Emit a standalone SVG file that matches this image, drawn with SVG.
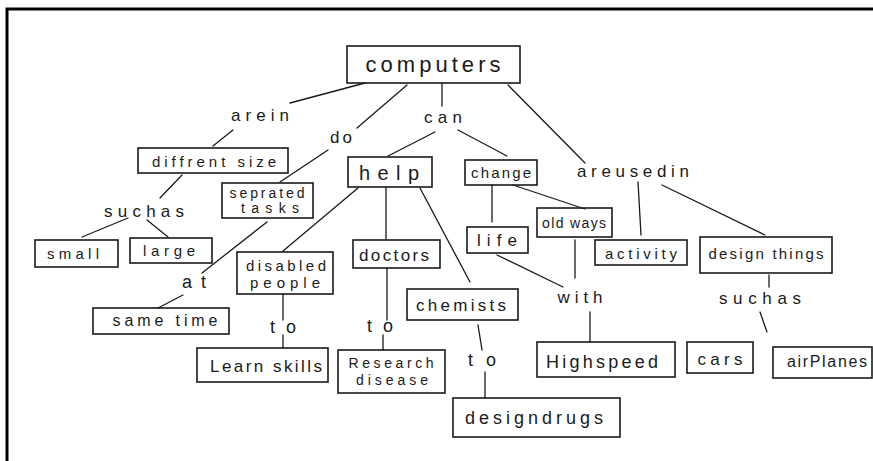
<svg xmlns="http://www.w3.org/2000/svg" width="873" height="461" viewBox="0 0 873 461">
<style>
.bx{fill:none;stroke:#1a1a1a;stroke-width:1.6}
.ln{fill:none;stroke:#1a1a1a;stroke-width:1.3;stroke-linecap:round}
text{font-family:"Liberation Sans","DejaVu Sans",sans-serif;fill:#1a1a1a;text-anchor:middle}
.lb{font-size:17px}
.nd{font-size:15px}
</style>
<rect width="873" height="461" fill="#ffffff"/>
<path d="M7,461 V9 H873" fill="none" stroke="#000" stroke-width="3"/>
<g id="connectors">
<line class="ln" x1="365" y1="83" x2="290" y2="103"/>
<line class="ln" x1="407" y1="85" x2="357" y2="128"/>
<line class="ln" x1="442" y1="83" x2="442" y2="106"/>
<line class="ln" x1="508" y1="85" x2="585" y2="163"/>
<line class="ln" x1="233" y1="130" x2="213" y2="146"/>
<line class="ln" x1="328" y1="150" x2="280" y2="182"/>
<line class="ln" x1="435" y1="132" x2="388" y2="156"/>
<line class="ln" x1="458" y1="130" x2="507" y2="156"/>
<line class="ln" x1="182" y1="175" x2="160" y2="198"/>
<line class="ln" x1="128" y1="218" x2="82" y2="237"/>
<line class="ln" x1="147" y1="220" x2="168" y2="237"/>
<line class="ln" x1="267" y1="222" x2="202" y2="273"/>
<line class="ln" x1="183" y1="295" x2="158" y2="308"/>
<line class="ln" x1="358" y1="188" x2="283" y2="251"/>
<line class="ln" x1="283" y1="294" x2="283" y2="320"/>
<line class="ln" x1="283" y1="335" x2="283" y2="348"/>
<line class="ln" x1="386" y1="187" x2="386" y2="239"/>
<line class="ln" x1="387" y1="268" x2="387" y2="320"/>
<line class="ln" x1="383" y1="335" x2="383" y2="350"/>
<line class="ln" x1="420" y1="188" x2="470" y2="282"/>
<line class="ln" x1="478" y1="325" x2="482" y2="350"/>
<line class="ln" x1="485" y1="372" x2="485" y2="398"/>
<line class="ln" x1="492" y1="185" x2="492" y2="222"/>
<line class="ln" x1="513" y1="185" x2="585" y2="209"/>
<line class="ln" x1="497" y1="255" x2="563" y2="287"/>
<line class="ln" x1="575" y1="240" x2="575" y2="278"/>
<line class="ln" x1="590" y1="312" x2="590" y2="342"/>
<line class="ln" x1="638" y1="182" x2="641" y2="235"/>
<line class="ln" x1="662" y1="185" x2="765" y2="235"/>
<line class="ln" x1="769" y1="275" x2="769" y2="287"/>
<line class="ln" x1="760" y1="312" x2="767" y2="332" stroke-width="2.2"/>
</g>
<g id="computers"><rect class="bx" x="347" y="46" width="173" height="37"/><text x="433" y="72" font-size="22" textLength="135" lengthAdjust="spacing">computers</text></g>
<g id="arein"><text class="lb" x="260" y="121" font-size="18" textLength="58" lengthAdjust="spacing">arein</text></g>
<g id="do"><text class="lb" x="341" y="143" font-size="18" textLength="22" lengthAdjust="spacing">do</text></g>
<g id="can"><text class="lb" x="443" y="123" font-size="18" textLength="38" lengthAdjust="spacing">can</text></g>
<g id="areusedin"><text class="lb" x="633" y="177" font-size="16" textLength="112" lengthAdjust="spacing">areusedin</text></g>
<g id="different-size"><rect class="bx" x="138" y="148" width="150" height="25"/><text class="nd" x="214" y="167" font-size="16" textLength="124" lengthAdjust="spacing">diffrent size</text></g>
<g id="seprated-tasks"><rect class="bx" x="222" y="183" width="91" height="35"/><text x="267" y="198" font-size="14" textLength="75" lengthAdjust="spacing">seprated</text><text x="270" y="213" font-size="14" textLength="58" lengthAdjust="spacing">tasks</text></g>
<g id="help"><rect class="bx" x="348" y="157" width="84" height="30"/><text x="389" y="180" font-size="20" textLength="60" lengthAdjust="spacing">help</text></g>
<g id="change"><rect class="bx" x="465" y="160" width="72" height="25"/><text x="501" y="178" font-size="15" textLength="60" lengthAdjust="spacing">change</text></g>
<g id="suchas-1"><text class="lb" x="144" y="217" textLength="80" lengthAdjust="spacing">suchas</text></g>
<g id="small"><rect class="bx" x="35" y="240" width="83" height="27"/><text class="nd" x="73" y="259" textLength="52" lengthAdjust="spacing">small</text></g>
<g id="large"><rect class="bx" x="130" y="238" width="82" height="25"/><text class="nd" x="169" y="256" textLength="52" lengthAdjust="spacing">large</text></g>
<g id="at"><text x="194" y="288" font-size="18" textLength="24" lengthAdjust="spacing">at</text></g>
<g id="same-time"><rect class="bx" x="93" y="308" width="136" height="26"/><text x="165" y="326" font-size="16" textLength="105" lengthAdjust="spacing">same time</text></g>
<g id="disabled-people"><rect class="bx" x="237" y="252" width="96" height="42"/><text x="286" y="271" font-size="15" textLength="80" lengthAdjust="spacing">disabled</text><text x="285" y="288" font-size="15" textLength="70" lengthAdjust="spacing">people</text></g>
<g id="to-1"><text x="283" y="333" font-size="18" textLength="26" lengthAdjust="spacing">to</text></g>
<g id="learn-skills"><rect class="bx" x="197" y="348" width="131" height="34"/><text x="266" y="372" font-size="17" textLength="112" lengthAdjust="spacing">Learn skills</text></g>
<g id="doctors"><rect class="bx" x="353" y="240" width="87" height="28"/><text x="394" y="261" font-size="17" textLength="70" lengthAdjust="spacing">doctors</text></g>
<g id="to-2"><text x="380" y="332" font-size="18" textLength="26" lengthAdjust="spacing">to</text></g>
<g id="research-disease"><rect class="bx" x="338" y="350" width="107" height="43"/><text x="391" y="368" font-size="14" textLength="85" lengthAdjust="spacing">Research</text><text x="392" y="385" font-size="14" textLength="72" lengthAdjust="spacing">disease</text></g>
<g id="chemists"><rect class="bx" x="407" y="289" width="111" height="31"/><text x="461" y="311" font-size="17" textLength="90" lengthAdjust="spacing">chemists</text></g>
<g id="to-3"><text x="482" y="366" font-size="18" textLength="28" lengthAdjust="spacing">to</text></g>
<g id="designdrugs"><rect class="bx" x="453" y="398" width="167" height="39"/><text x="534" y="424" font-size="18" textLength="138" lengthAdjust="spacing">designdrugs</text></g>
<g id="life"><rect class="bx" x="467" y="227" width="61" height="26"/><text x="497" y="246" font-size="17" textLength="40" lengthAdjust="spacing">life</text></g>
<g id="old-ways"><rect class="bx" x="537" y="208" width="75" height="29"/><text x="574" y="228" font-size="14" textLength="64" lengthAdjust="spacing">old ways</text></g>
<g id="with"><text x="580" y="303" font-size="17" textLength="45" lengthAdjust="spacing">with</text></g>
<g id="highspeed"><rect class="bx" x="537" y="342" width="138" height="35"/><text x="602" y="368" font-size="18" textLength="112" lengthAdjust="spacing">Highspeed</text></g>
<g id="activity"><rect class="bx" x="595" y="240" width="92" height="25"/><text x="641" y="259" font-size="15" textLength="72" lengthAdjust="spacing">activity</text></g>
<g id="design-things"><rect class="bx" x="700" y="237" width="132" height="36"/><text x="766" y="259" font-size="15" textLength="115" lengthAdjust="spacing">design things</text></g>
<g id="suchas-2"><text x="760" y="304" font-size="17" textLength="82" lengthAdjust="spacing">suchas</text></g>
<g id="cars"><rect class="bx" x="687" y="342" width="66" height="31"/><text x="720" y="365" font-size="17" textLength="45" lengthAdjust="spacing">cars</text></g>
<g id="airplanes"><rect class="bx" x="773" y="347" width="99" height="31"/><text x="827" y="367" font-size="16" textLength="80" lengthAdjust="spacing">airPlanes</text></g>
</svg>
